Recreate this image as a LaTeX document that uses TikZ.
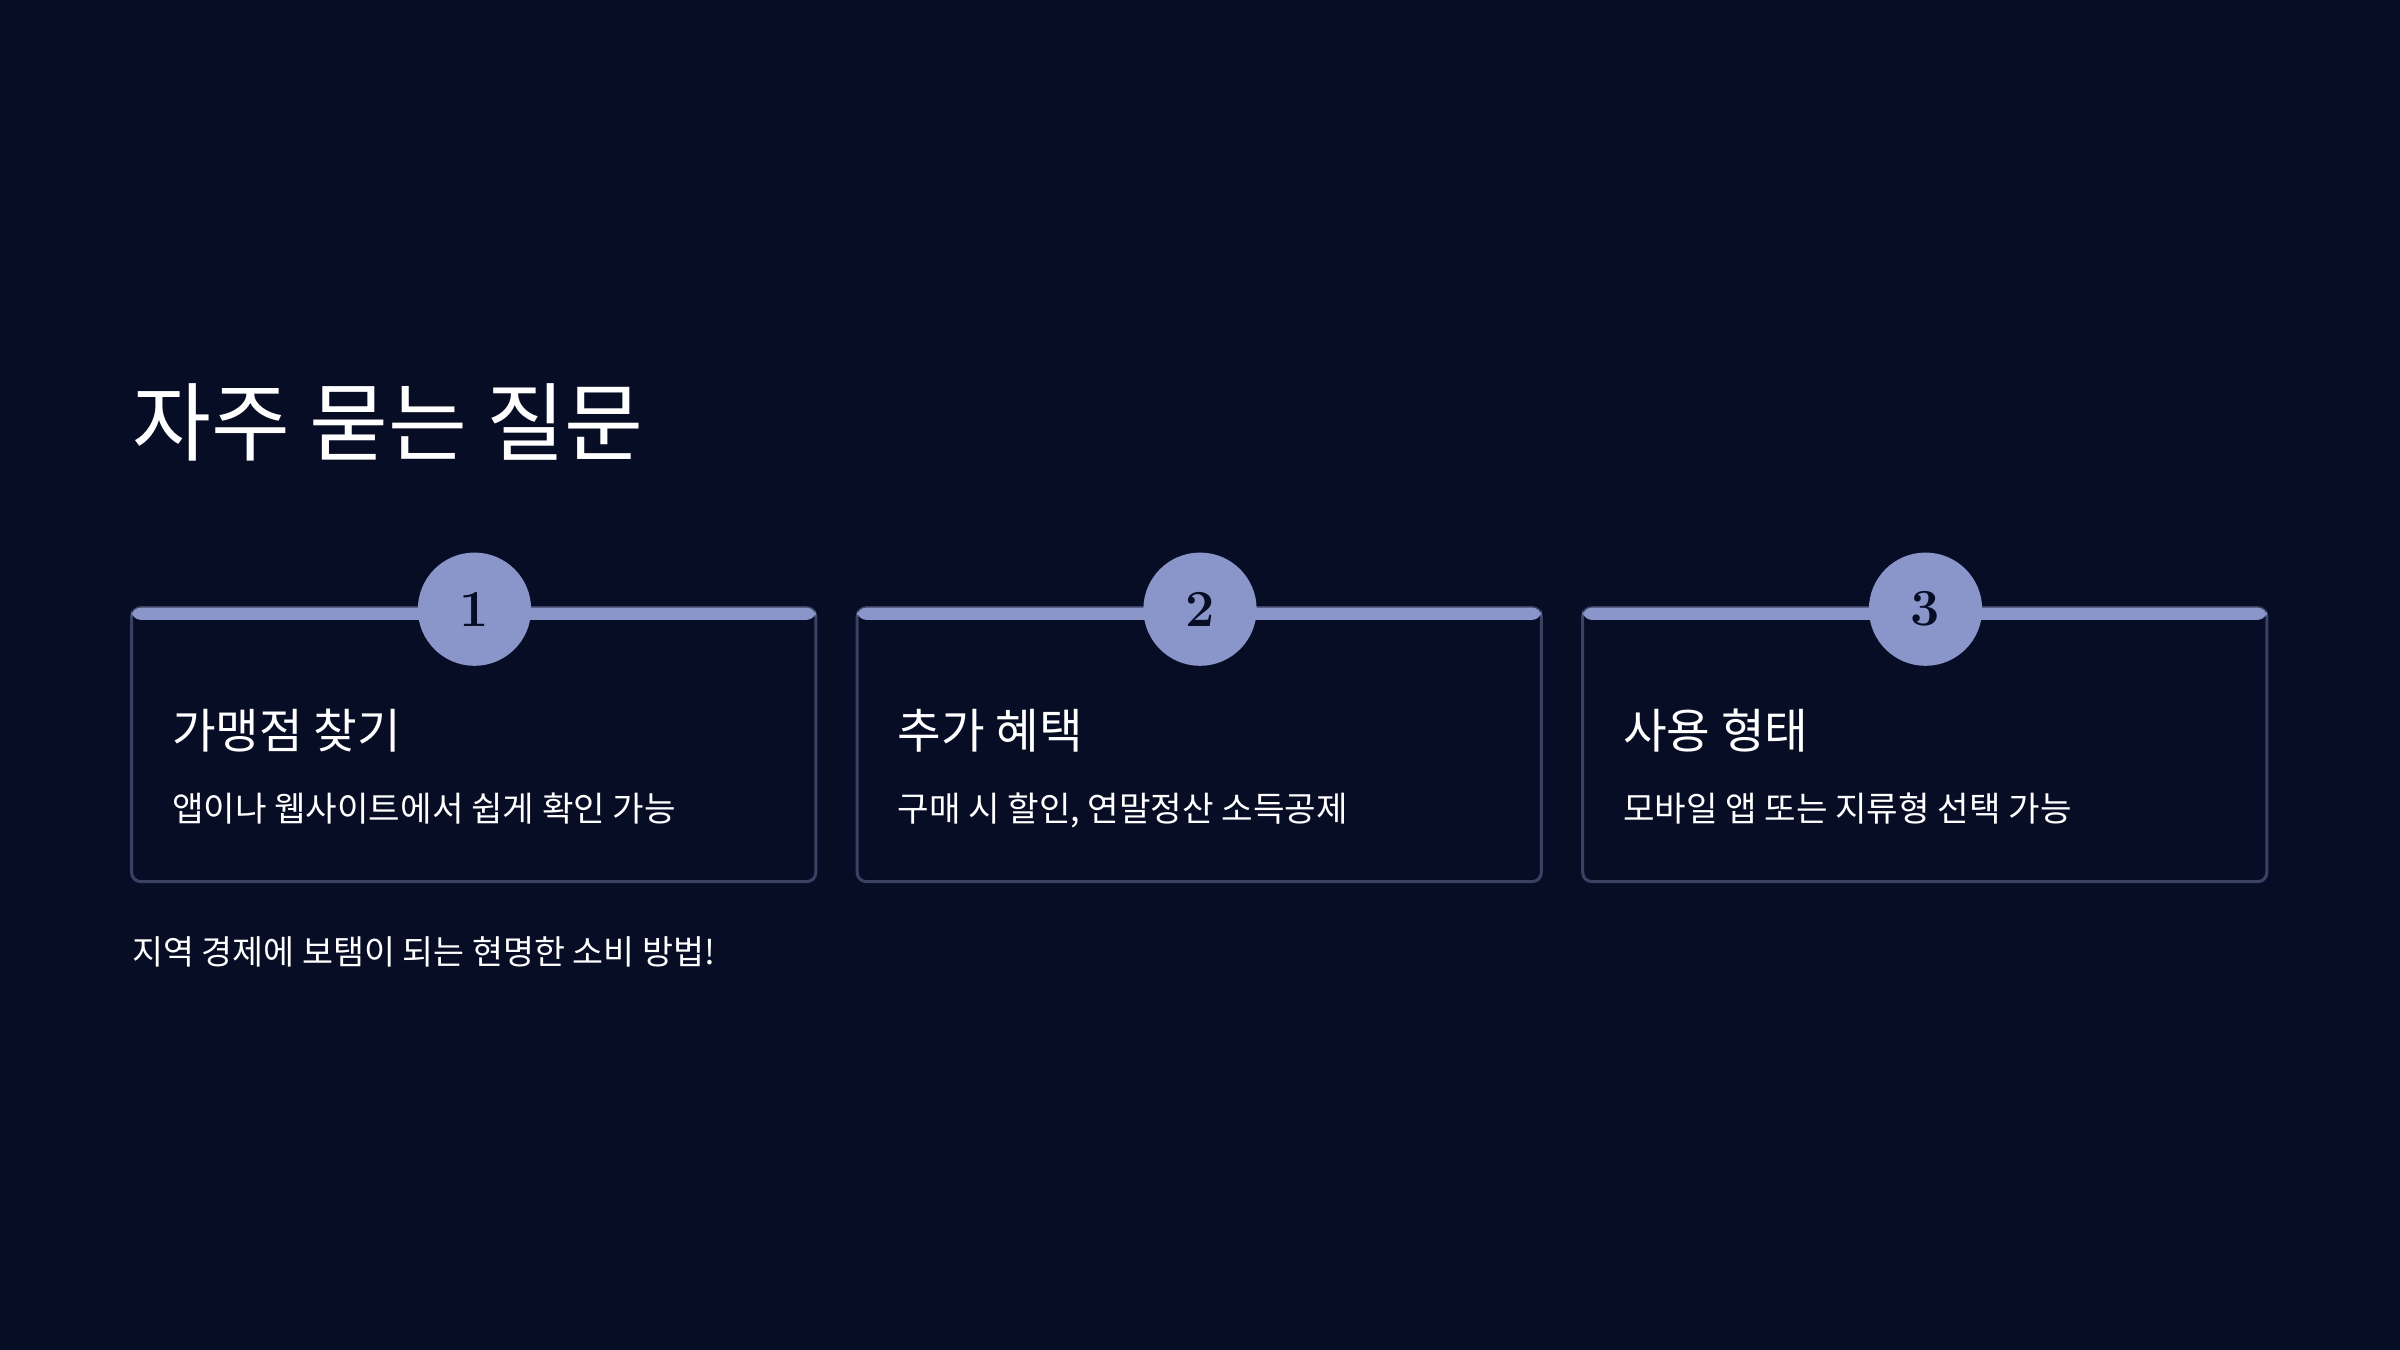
\documentclass[tikz,border=0pt]{standalone}
\usepackage{fontspec}
\newfontfamily\kr{Noto Sans CJK KR}
\definecolor{bg}{HTML}{080D26}
\definecolor{acc}{HTML}{8A96CA}
\definecolor{bord}{HTML}{3A4263}
\tikzset{
 card/.style={draw=bord,line width=1pt,rounded corners=3pt},
 num/.style={circle,fill=acc,minimum size=37pt,inner sep=0pt,font=\bfseries\fontsize{17}{17}\selectfont,text=bg},
 ctitle/.style={anchor=base west,inner sep=0pt,text=white,font=\kr\fontsize{15.5}{18}\selectfont},
 cbody/.style={anchor=base west,inner sep=0pt,text=white,font=\kr\fontsize{11.2}{14}\selectfont},
}
\begin{document}
\begin{tikzpicture}[x=0.5pt,y=-0.5pt]
\fill[bg] (0,0) rectangle (1568,882);
\useasboundingbox (0,0) rectangle (1568,882);
\node[anchor=base west,inner sep=0pt,text=white,font=\kr\fontsize{28}{32}\selectfont] (title) at (86,297) {자주 묻는 질문};
\foreach \i/\x/\t/\b in {1/86/가맹점 찾기/앱이나 웹사이트에서 쉽게 확인 가능, 2/560/추가 혜택/{구매 시 할인, 연말정산 소득공제}, 3/1034/사용 형태/모바일 앱 또는 지류형 선택 가능}{
 \draw[card] (\x,397) rectangle (\x+447,576);
 \fill[acc,rounded corners=3pt] (\x,405) -- (\x,397) -- (\x+447,397) -- (\x+447,405) -- cycle;
 \node[num] (n\i) at (\x+224,398) {\i};
 \node[ctitle] (t\i) at (\x+26,489) {\t};
 \node[cbody] (b\i) at (\x+26,537) {\b};
}
\node[anchor=base west,inner sep=0pt,text=white,font=\kr\fontsize{11}{14}\selectfont] (foot) at (86,630) {지역 경제에 보탬이 되는 현명한 소비 방법!};
\end{tikzpicture}
\end{document}
